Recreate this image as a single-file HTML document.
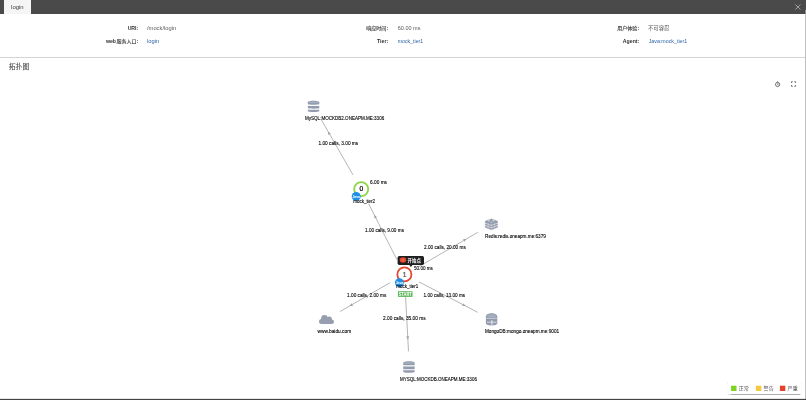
<!DOCTYPE html>
<html><head><meta charset="utf-8"><title>login</title>
<style>
html,body{margin:0;padding:0;background:#fff;}
body{width:806px;height:400px;position:relative;overflow:hidden;font-family:"Liberation Sans",sans-serif;}
.topbar{position:absolute;left:0;top:0;width:806px;height:13.5px;background:#4a4a4a;}
.tab{position:absolute;left:4px;top:0;width:27px;height:14px;background:#f5f5f5;font-size:5.88px;line-height:14px;text-align:center;color:#444;}
.divider{position:absolute;left:0;top:57px;width:806px;height:0.7px;background:#d4d4d4;}
.legend{position:absolute;left:727.7px;top:381.4px;width:73.2px;height:12.8px;background:#fff;box-shadow:0 0.5px 0.9px rgba(0,0,0,.32);}
.bottombar{position:absolute;left:0;top:398.7px;width:806px;height:1.3px;background:#444;box-shadow:0 -0.3px 0.5px rgba(0,0,0,.4);}
.rightedge{position:absolute;left:805px;top:9.5px;width:1px;height:389.3px;background:linear-gradient(#909090 0,#909090 4px,#c2c2c2 4px);}
</style></head>
<body>
<div class="topbar"></div>
<div class="tab"></div>
<div class="divider"></div>
<div class="legend"></div>
<div class="rightedge"></div>
<div class="bottombar"></div>
<svg width="806" height="400" viewBox="0 0 806 400" font-family="'Liberation Sans', 'Noto Sans CJK SC', sans-serif" style="position:absolute;left:0;top:0;will-change:transform">
<text x="138.30" y="29.90" font-size="5.20" fill="#333" text-anchor="end" font-weight="bold">URI:</text>
<text x="147.00" y="29.90" font-size="5.88" fill="#5a5a5a" textLength="29.20" lengthAdjust="spacingAndGlyphs">/mock/login</text>
<text x="138.30" y="43.20" font-size="5.20" fill="#333" text-anchor="end" font-weight="bold">:</text>
<text x="116.44" y="42.95" font-size="5.04" fill="#333" stroke="#333" stroke-width="0.1" font-family="'Liberation Sans', 'Noto Sans CJK SC', sans-serif">服务入口</text>
<text x="116.04" y="43.20" font-size="5.20" fill="#333" text-anchor="end" font-weight="bold">web</text>
<text x="147.00" y="43.20" font-size="5.88" fill="#2d64a8" textLength="12.20" lengthAdjust="spacingAndGlyphs">login</text>
<text x="388.20" y="29.90" font-size="5.20" fill="#333" text-anchor="end" font-weight="bold">:</text>
<text x="366.14" y="29.65" font-size="5.04" fill="#333" stroke="#333" stroke-width="0.1" font-family="'Liberation Sans', 'Noto Sans CJK SC', sans-serif">响应时间</text>
<text x="397.70" y="29.90" font-size="5.88" fill="#5a5a5a" textLength="22.80" lengthAdjust="spacingAndGlyphs">60.00 ms</text>
<text x="388.20" y="43.20" font-size="5.20" fill="#333" text-anchor="end" font-weight="bold">Tier:</text>
<text x="397.70" y="43.20" font-size="5.88" fill="#2d64a8" textLength="25.50" lengthAdjust="spacingAndGlyphs">mock_tier1</text>
<text x="639.30" y="29.90" font-size="5.20" fill="#333" text-anchor="end" font-weight="bold">:</text>
<text x="617.24" y="29.65" font-size="5.04" fill="#333" stroke="#333" stroke-width="0.1" font-family="'Liberation Sans', 'Noto Sans CJK SC', sans-serif">用户体验</text>
<text x="647.90" y="29.60" font-size="5.40" fill="#5a5a5a" font-family="'Liberation Sans', 'Noto Sans CJK SC', sans-serif">不可容忍</text>
<text x="639.30" y="43.20" font-size="5.20" fill="#333" text-anchor="end" font-weight="bold">Agent:</text>
<text x="648.70" y="43.20" font-size="5.88" fill="#2d64a8" textLength="38.60" lengthAdjust="spacingAndGlyphs">Java:mock_tier1</text>
<text x="11.10" y="9.10" font-size="5.88" fill="#3c3c3c" textLength="12.60" lengthAdjust="spacingAndGlyphs">login</text>
<text x="8.80" y="69.20" font-size="6.80" fill="#4a4a4a" stroke="#4a4a4a" stroke-width="0.1" font-family="'Liberation Sans', 'Noto Sans CJK SC', sans-serif">拓扑图</text>
<line x1="353.0" y1="174.9" x2="321.0" y2="119.2" stroke="#777" stroke-width="0.55"/>
<path d="M1.8 0L-1.6 -1.5L-0.8 0L-1.6 1.5Z" fill="#999" transform="translate(329.0 133.2) rotate(-119.9)"/>
<line x1="397.0" y1="259.8" x2="368.6" y2="203.7" stroke="#777" stroke-width="0.55"/>
<path d="M1.8 0L-1.6 -1.5L-0.8 0L-1.6 1.5Z" fill="#999" transform="translate(375.2 216.7) rotate(-116.9)"/>
<line x1="418.6" y1="266.8" x2="477.8" y2="232.3" stroke="#777" stroke-width="0.55"/>
<path d="M1.8 0L-1.6 -1.5L-0.8 0L-1.6 1.5Z" fill="#999" transform="translate(464.8 239.9) rotate(-30.2)"/>
<line x1="390.2" y1="282.6" x2="340.2" y2="311.5" stroke="#777" stroke-width="0.55"/>
<path d="M1.8 0L-1.6 -1.5L-0.8 0L-1.6 1.5Z" fill="#999" transform="translate(351.2 305.2) rotate(150.0)"/>
<line x1="419.0" y1="281.9" x2="477.7" y2="312.3" stroke="#777" stroke-width="0.55"/>
<path d="M1.8 0L-1.6 -1.5L-0.8 0L-1.6 1.5Z" fill="#999" transform="translate(464.0 305.2) rotate(27.3)"/>
<line x1="405.3" y1="291.2" x2="408.5" y2="351.4" stroke="#777" stroke-width="0.55"/>
<path d="M1.8 0L-1.6 -1.5L-0.8 0L-1.6 1.5Z" fill="#999" transform="translate(407.8 337.6) rotate(87.0)"/>
<text x="318.50" y="144.90" font-size="5.04" fill="#000" textLength="39.70" lengthAdjust="spacingAndGlyphs" stroke="#000" stroke-width="0.11">1.00 calls, 3.00 ms</text>
<text x="365.00" y="231.80" font-size="5.04" fill="#000" textLength="39.00" lengthAdjust="spacingAndGlyphs" stroke="#000" stroke-width="0.11">1.00 calls, 9.00 ms</text>
<text x="424.00" y="248.90" font-size="5.04" fill="#000" textLength="41.80" lengthAdjust="spacingAndGlyphs" stroke="#000" stroke-width="0.11">2.00 calls, 20.00 ms</text>
<text x="347.10" y="297.10" font-size="5.04" fill="#000" textLength="39.20" lengthAdjust="spacingAndGlyphs" stroke="#000" stroke-width="0.11">1.00 calls, 2.00 ms</text>
<text x="423.50" y="296.90" font-size="5.04" fill="#000" textLength="41.70" lengthAdjust="spacingAndGlyphs" stroke="#000" stroke-width="0.11">1.00 calls, 13.00 ms</text>
<text x="383.10" y="319.90" font-size="5.04" fill="#000" textLength="42.50" lengthAdjust="spacingAndGlyphs" stroke="#000" stroke-width="0.11">2.00 calls, 35.00 ms</text>
<g transform="translate(313.55 106.45)" fill="#929bad"><path d="M-5.7 -4.2C-5.7 -6.2 5.7 -6.2 5.7 -4.2V-2.1C5.7 -1.5 -5.7 -1.5 -5.7 -2.1Z"/><ellipse cx="0" cy="-4.1" rx="4.9" ry="0.9" fill="#a4adbd"/><path d="M-5.7 -0.7C-3 -0.3 3 -0.3 5.7 -0.7V1.9C5.7 2.4 -5.7 2.4 -5.7 1.9Z"/><path d="M-5.7 3.0C-3 3.4 3 3.4 5.7 3.0V4.9C5.7 5.9 -5.7 5.9 -5.7 4.9Z"/></g>
<text x="305.00" y="120.10" font-size="5.04" fill="#000" textLength="79.20" lengthAdjust="spacingAndGlyphs" stroke="#000" stroke-width="0.11">MySQL:MOCKDB2.ONEAPM.ME:3306</text>
<g transform="translate(491.40 224.30)"><path d="M-6.15 1.60L0 -0.70L6.15 1.60V3.05L0 5.35L-6.15 3.05Z" fill="#929bad" stroke="#929bad" stroke-width="0.5" stroke-linejoin="round"/><path d="M-6.15 -0.75L0 -3.05L6.15 -0.75V0.70L0 3.00L-6.15 0.70Z" fill="#929bad" stroke="#929bad" stroke-width="0.5" stroke-linejoin="round"/><path d="M-6.35 1.15L0 3.45L6.35 1.15" fill="none" stroke="#fff" stroke-width="0.6" stroke-opacity="0.85"/><path d="M-6.15 -3.10L0 -5.40L6.15 -3.10V-1.65L0 0.65L-6.15 -1.65Z" fill="#929bad" stroke="#929bad" stroke-width="0.5" stroke-linejoin="round"/><path d="M-6.35 -1.20L0 1.10L6.35 -1.20" fill="none" stroke="#fff" stroke-width="0.6" stroke-opacity="0.85"/><ellipse cx="-2.3" cy="-3.45" rx="1.0" ry="0.5" fill="#fff" opacity="0.9"/><ellipse cx="2.0" cy="-3.45" rx="1.0" ry="0.5" fill="#fff" opacity="0.9"/><ellipse cx="0" cy="-2.15" rx="0.9" ry="0.45" fill="#fff" opacity="0.9"/><path d="M0 -0.60V5.30M-3.2 -1.75V4.20M3.2 -1.75V4.20" stroke="#fff" stroke-width="0.5" stroke-opacity="0.55"/></g>
<text x="485.10" y="237.90" font-size="5.04" fill="#000" textLength="60.80" lengthAdjust="spacingAndGlyphs" stroke="#000" stroke-width="0.11">Redis:redis.oneapm.me:6379</text>
<g transform="translate(326.50 319.50)" fill="#969eaf"><circle cx="-2" cy="-1.2" r="3.35"/><circle cx="2.9" cy="-0.4" r="2.5"/><circle cx="-5" cy="2" r="2.5"/><circle cx="5.2" cy="2.2" r="2.3"/><rect x="-5" y="0" width="10.2" height="4.5"/></g>
<text x="317.50" y="332.90" font-size="5.04" fill="#000" textLength="33.70" lengthAdjust="spacingAndGlyphs" stroke="#000" stroke-width="0.11">www.baidu.com</text>
<g transform="translate(491.60 319.30)"><path d="M-5.7 -2.7C-5.7 -7.3 5.7 -7.3 5.7 -2.7V4C5.7 7 -5.7 7 -5.7 4Z" fill="#929bad"/><ellipse cx="0" cy="-3.6" rx="4.6" ry="1.5" fill="#a4adbd"/><path d="M-5.2 -1H5.2" stroke="#fff" stroke-width="0.6" opacity="0.9"/><path d="M-4.6 2.9H4.9" stroke="#fff" stroke-width="0.7" opacity="0.9"/><path d="M0.3 0.7V6.4" stroke="#fff" stroke-width="0.8" opacity="0.95"/></g>
<text x="484.90" y="332.70" font-size="5.04" fill="#000" textLength="74.20" lengthAdjust="spacingAndGlyphs" stroke="#000" stroke-width="0.11">MongoDB:mongo.oneapm.me:9001</text>
<g transform="translate(408.95 367.00)" fill="#929bad"><path d="M-5.7 -4.2C-5.7 -6.2 5.7 -6.2 5.7 -4.2V-2.1C5.7 -1.5 -5.7 -1.5 -5.7 -2.1Z"/><ellipse cx="0" cy="-4.1" rx="4.9" ry="0.9" fill="#a4adbd"/><path d="M-5.7 -0.7C-3 -0.3 3 -0.3 5.7 -0.7V1.9C5.7 2.4 -5.7 2.4 -5.7 1.9Z"/><path d="M-5.7 3.0C-3 3.4 3 3.4 5.7 3.0V4.9C5.7 5.9 -5.7 5.9 -5.7 4.9Z"/></g>
<text x="400.00" y="380.50" font-size="5.04" fill="#000" textLength="76.90" lengthAdjust="spacingAndGlyphs" stroke="#000" stroke-width="0.11">MYSQL:MOCKDB.ONEAPM.ME:3306</text>
<circle cx="361.2" cy="189.1" r="7.05" fill="#fff" stroke="#8fd549" stroke-width="1.8"/>
<text x="361.30" y="191.35" font-size="6.70" fill="#000" text-anchor="middle" stroke="#000" stroke-width="0.22">0</text>
<text x="370.10" y="184.30" font-size="5.04" fill="#000" textLength="16.90" lengthAdjust="spacingAndGlyphs" stroke="#000" stroke-width="0.11">6.00 ms</text>
<circle cx="356.2" cy="196.4" r="4.45" fill="#1f8fe6"/>
<text x="356.20" y="197.55" font-size="3.40" fill="#fff" text-anchor="middle" font-weight="bold">Java</text>
<text x="353.20" y="202.90" font-size="5.04" fill="#000" textLength="21.90" lengthAdjust="spacingAndGlyphs" stroke="#000" stroke-width="0.11">mock_tier2</text>
<circle cx="404.4" cy="274.4" r="7.05" fill="#fff" stroke="#e2492f" stroke-width="1.8"/>
<text x="404.50" y="276.65" font-size="6.70" fill="#555" text-anchor="middle" stroke="#555" stroke-width="0.22">1</text>
<text x="414.00" y="269.60" font-size="5.04" fill="#000" textLength="18.90" lengthAdjust="spacingAndGlyphs" stroke="#000" stroke-width="0.11">50.00 ms</text>
<circle cx="399.4" cy="282.7" r="4.45" fill="#1f8fe6"/>
<text x="399.40" y="283.85" font-size="3.40" fill="#fff" text-anchor="middle" font-weight="bold">Java</text>
<text x="396.30" y="288.20" font-size="5.04" fill="#000" textLength="21.90" lengthAdjust="spacingAndGlyphs" stroke="#000" stroke-width="0.11">mock_tier1</text>
<rect x="398" y="291.2" width="14.5" height="5.7" fill="#5cb85c"/>
<text x="405.25" y="295.95" font-size="5.20" fill="#fff" text-anchor="middle" font-weight="bold" textLength="13.10" lengthAdjust="spacingAndGlyphs">START</text>
<rect x="397.6" y="255.9" width="26.4" height="9.1" rx="1.7" fill="#1f1f1f"/>
<path d="M409.3 264.9H412.5L410.9 267Z" fill="#1f1f1f"/>
<ellipse cx="403.0" cy="260.1" rx="3.3" ry="2.75" fill="#e2492f"/>
<circle cx="403.0" cy="260.1" r="1.1" fill="#f06a50"/>
<text x="407.60" y="261.85" font-size="4.45" fill="#fff" font-weight="bold" font-family="'Liberation Sans', 'Noto Sans CJK SC', sans-serif">开始点</text>
<g stroke="#555" fill="none" stroke-width="0.85"><circle cx="777.6" cy="84.5" r="2.1"/><path d="M777.6 81.2V82.4M777.6 83.5V84.6H778.6" stroke-width="0.7"/></g>
<g stroke="#555" fill="none" stroke-width="0.8"><path d="M791.5 83V81.7H792.8M794.3 81.7H795.6V83M795.6 85V86.3H794.3M792.8 86.3H791.5V85"/></g>
<rect x="731.1" y="385.7" width="5.4" height="5.3" fill="#7ed321"/>
<text x="738.80" y="390.25" font-size="5.04" fill="#555" font-family="'Liberation Sans', 'Noto Sans CJK SC', sans-serif">正常</text>
<rect x="755.9" y="385.7" width="5.4" height="5.3" fill="#f5c842"/>
<text x="763.60" y="390.25" font-size="5.04" fill="#555" font-family="'Liberation Sans', 'Noto Sans CJK SC', sans-serif">警告</text>
<rect x="779.9" y="385.7" width="5.4" height="5.3" fill="#e2432a"/>
<text x="787.60" y="390.25" font-size="5.04" fill="#555" font-family="'Liberation Sans', 'Noto Sans CJK SC', sans-serif">严重</text>
<path d="M795.4 4.5L800.4 9.5M800.4 4.5L795.4 9.5" stroke="#c8c8c8" stroke-width="0.7" fill="none"/></svg>
</body></html>
